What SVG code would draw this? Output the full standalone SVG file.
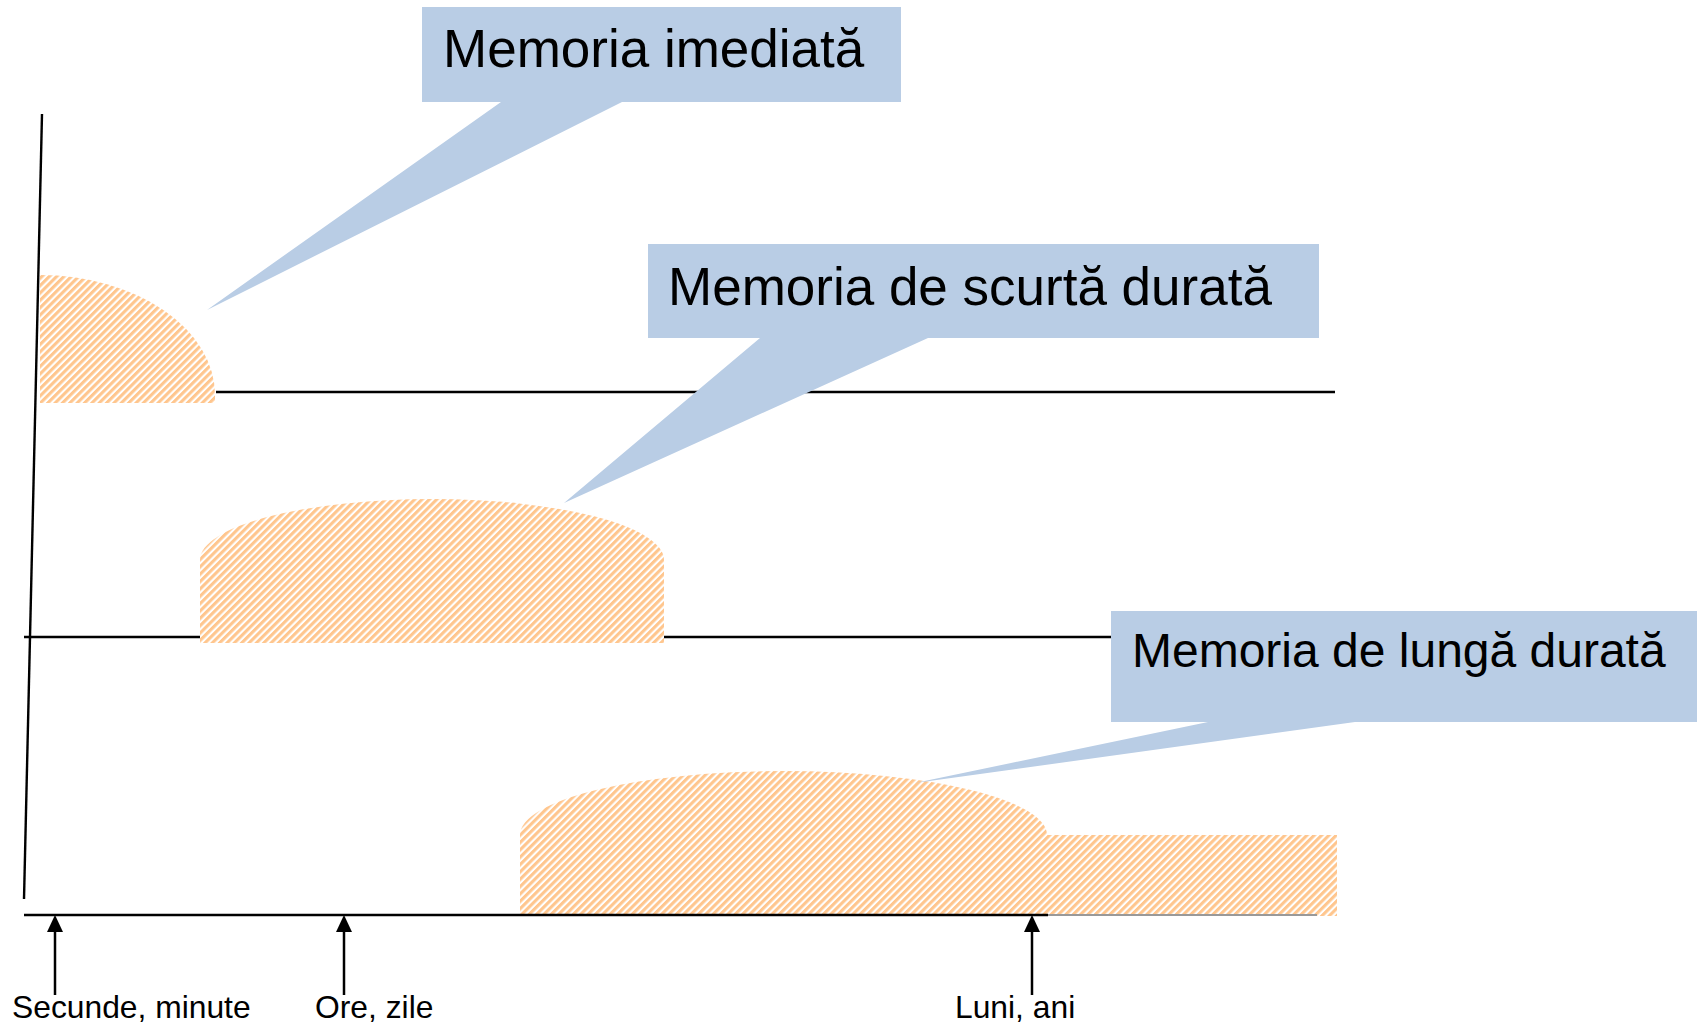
<svg xmlns="http://www.w3.org/2000/svg" width="1702" height="1027" viewBox="0 0 1702 1027">
<style>
.ax{stroke:#000;stroke-width:2.4;fill:none}
.callout{fill:#B9CDE5}
.big{font-family:"Liberation Sans",Arial,sans-serif;fill:#000}
.lbl{font-family:"Liberation Sans",Arial,sans-serif;font-size:31.8px;fill:#000}
.tick{stroke:#000;stroke-width:2.5}
</style>
<defs>
<pattern id="hatch" patternUnits="userSpaceOnUse" width="5.2" height="5.2" patternTransform="rotate(45)">
<rect x="0" y="0" width="5.2" height="5.2" fill="#fff"/>
<rect x="0" y="0" width="3.1" height="5.2" fill="#FFC68E"/>
</pattern>
</defs>
<rect width="1702" height="1027" fill="#fff"/>

<g id="axes">
<line class="ax" x1="42" y1="114" x2="24" y2="899"/>
<line class="ax" x1="216" y1="392" x2="1335" y2="392"/>
<line class="ax" x1="24" y1="637" x2="1335" y2="637"/>
</g>

<g id="mem-imediata-shape">
<path d="M40,403 V275 A175,120 0 0 1 215,395 V403 Z" fill="url(#hatch)"/>
</g>
<g id="mem-scurta-shape">
<path d="M200,643 V560 A232,61 0 0 1 664,560 V643 Z" fill="url(#hatch)"/>
</g>
<g id="mem-lunga-shape">
<path d="M520,916 V835 A263.5,64 0 0 1 1047,835 H1337 V916 Z" fill="url(#hatch)"/>
</g>

<g id="connectors">
<line x1="24" y1="915" x2="1048" y2="915" stroke="#000" stroke-width="2.4"/>
<line x1="1048" y1="915" x2="1317" y2="915" stroke="#999" stroke-width="2"/>
<line class="tick" x1="55" y1="995" x2="55" y2="930"/>
<path d="M47,932 L55,915 L63,932 Z" fill="#000"/>
<line class="tick" x1="344" y1="995" x2="344" y2="930"/>
<path d="M336,932 L344,915 L352,932 Z" fill="#000"/>
<line class="tick" x1="1032" y1="995" x2="1032" y2="930"/>
<path d="M1024,932 L1032,915 L1040,932 Z" fill="#000"/>
</g>

<g id="callout-imediata">
<path class="callout" d="M422,7 H901 V102 H622 L207,310 L501,102 H422 Z"/>
<text class="big" x="443" y="67" font-size="53">Memoria imediată</text>
</g>
<g id="callout-scurta">
<path class="callout" d="M648,244 H1319 V338 H928 L564,503 L760,338 H648 Z"/>
<text class="big" x="668" y="305" font-size="53">Memoria de scurtă durată</text>
</g>
<g id="callout-lunga">
<path class="callout" d="M1111,611 H1697 V722 H1355 L915,783 L1208,722 H1111 Z"/>
<text class="big" x="1132" y="667" font-size="48">Memoria de lungă durată</text>
</g>

<g id="labels">
<text class="lbl" x="12" y="1018">Secunde, minute</text>
<text class="lbl" x="315" y="1018">Ore, zile</text>
<text class="lbl" x="955" y="1018">Luni, ani</text>
</g>
</svg>
